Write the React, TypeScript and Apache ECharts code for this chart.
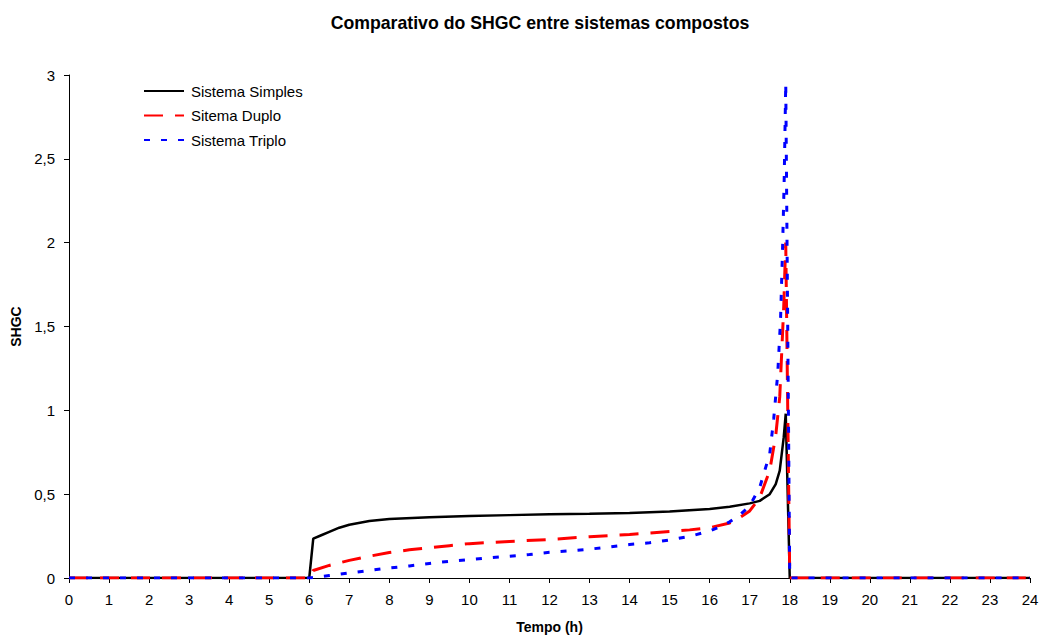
import React, { useEffect, useRef } from "react";
import * as echarts from "echarts";

// Hourly SHGC profiles for three composite glazing systems
const HOURS_SIMPLES = [0, 6.0, 6.1, 6.3, 6.5, 6.75, 7, 7.5, 8, 9, 10, 11, 12, 13, 14, 15, 16, 16.5, 17, 17.25, 17.5, 17.65, 17.75, 17.85, 17.9, 18, 24];
const SHGC_SIMPLES = [0, 0, 0.235, 0.255, 0.275, 0.3, 0.318, 0.34, 0.352, 0.362, 0.37, 0.375, 0.38, 0.383, 0.388, 0.397, 0.412, 0.425, 0.445, 0.46, 0.5, 0.56, 0.64, 0.84, 0.98, 0, 0];

const HOURS_DUPLO = [0, 6.0, 6.1, 6.5, 7, 7.5, 8, 8.5, 9, 9.5, 10, 11, 12, 13, 14, 15, 15.5, 16, 16.5, 16.75, 17, 17.25, 17.5, 17.65, 17.75, 17.85, 17.9, 18, 24];
const SHGC_DUPLO = [0, 0, 0.045, 0.075, 0.105, 0.13, 0.152, 0.168, 0.18, 0.193, 0.205, 0.218, 0.23, 0.246, 0.26, 0.277, 0.287, 0.3, 0.328, 0.36, 0.4, 0.48, 0.64, 0.85, 1.08, 1.62, 2.0, 0, 0];

const HOURS_TRIPLO = [0, 6.0, 6.5, 7, 7.5, 8, 8.5, 9, 9.5, 10, 10.5, 11, 11.5, 12, 12.5, 13, 13.5, 14, 14.5, 15, 15.5, 16, 16.25, 16.5, 16.75, 17, 17.25, 17.5, 17.6, 17.7, 17.77, 17.82, 17.86, 17.9, 18, 24];
const SHGC_TRIPLO = [0, 0, 0.015, 0.03, 0.045, 0.06, 0.072, 0.087, 0.1, 0.11, 0.12, 0.13, 0.14, 0.153, 0.162, 0.172, 0.185, 0.2, 0.21, 0.227, 0.248, 0.28, 0.305, 0.335, 0.375, 0.43, 0.54, 0.74, 0.95, 1.22, 1.54, 1.96, 2.36, 2.95, 0, 0];

const SERIES_NAMES = ["Sistema Simples", "Sitema Duplo", "Sistema Triplo"];

const FONT = "Liberation Sans, Arial, sans-serif";

const pairs = (xs: number[], ys: number[]) => xs.map((x, i) => [x, ys[i]]);

export default function App() {
  const ref = useRef<HTMLDivElement>(null);

  useEffect(() => {
    if (!ref.current) return;
    const chart = echarts.init(ref.current, undefined, { renderer: "svg" });
    chart.setOption({
      animation: false,
      backgroundColor: "#ffffff",
      textStyle: { fontFamily: FONT },
      title: {
        text: "Comparativo do SHGC entre sistemas compostos",
        left: 535,
        top: 9,
        textAlign: "center",
        textStyle: { fontFamily: FONT, fontSize: 17.7, fontWeight: "bold", color: "#000" },
      },
      legend: {
        orient: "vertical",
        left: 138,
        top: 78,
        itemWidth: 40,
        itemHeight: 16,
        itemGap: 8.5,
        itemStyle: { opacity: 0 },
        textStyle: { fontFamily: FONT, fontSize: 15, lineHeight: 16, color: "#000", padding: [0, 0, 0, 2] },
        data: SERIES_NAMES,
      },
      grid: { left: 69, right: 9, top: 75, bottom: 57, containLabel: false, outerBoundsMode: "none" },
      xAxis: {
        type: "value",
        min: 0,
        max: 24,
        interval: 1,
        name: "Tempo (h)",
        nameLocation: "middle",
        nameGap: 42,
        nameTextStyle: { fontFamily: FONT, fontSize: 14, fontWeight: "bold", color: "#000" },
        axisLine: { show: true, onZero: false, lineStyle: { color: "#000", width: 1 } },
        axisTick: { show: true, inside: false, length: 5, lineStyle: { color: "#000" } },
        axisLabel: { fontFamily: FONT, fontSize: 15, color: "#000", margin: 14 },
        splitLine: { show: false },
      },
      yAxis: {
        type: "value",
        min: 0,
        max: 3,
        interval: 0.5,
        name: "SHGC",
        nameLocation: "middle",
        nameGap: 45,
        nameRotate: 90,
        nameTextStyle: { fontFamily: FONT, fontSize: 14, fontWeight: "bold", color: "#000" },
        axisLine: { show: true, lineStyle: { color: "#000", width: 1 } },
        axisTick: { show: true, inside: false, length: 5, lineStyle: { color: "#000" } },
        axisLabel: {
          fontFamily: FONT,
          fontSize: 15,
          color: "#000",
          margin: 14,
          formatter: (v: number) => String(v).replace(".", ","),
        },
        splitLine: { show: false },
      },
      series: [
        {
          name: SERIES_NAMES[0],
          type: "line",
          symbol: "none",
          data: pairs(HOURS_SIMPLES, SHGC_SIMPLES),
          lineStyle: { color: "#000000", width: 2.5, type: "solid" },
          itemStyle: { color: "#000000" },
          z: 2,
        },
        {
          name: SERIES_NAMES[1],
          type: "line",
          symbol: "none",
          data: pairs(HOURS_DUPLO, SHGC_DUPLO),
          lineStyle: { color: "#ff0000", width: 3, type: [19, 12] },
          itemStyle: { color: "#ff0000" },
          z: 3,
        },
        {
          name: SERIES_NAMES[2],
          type: "line",
          symbol: "none",
          data: pairs(HOURS_TRIPLO, SHGC_TRIPLO),
          lineStyle: { color: "#0000ff", width: 3, type: [6, 11] },
          itemStyle: { color: "#0000ff" },
          z: 4,
        },
      ],
    });
    return () => chart.dispose();
  }, []);

  return (
    <div
      ref={ref}
      style={{ position: "fixed", left: 0, top: 0, width: 1039, height: 635, background: "#fff" }}
    />
  );
}
